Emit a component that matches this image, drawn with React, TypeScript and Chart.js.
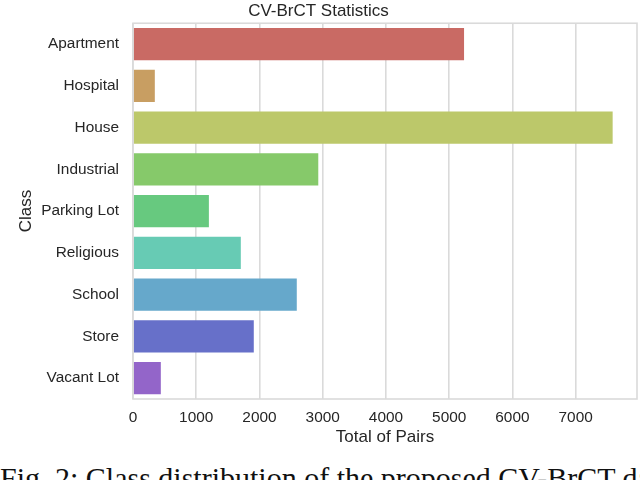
import React, { useEffect, useRef } from "react";
import { Chart, registerables } from "chart.js";

Chart.register(...registerables);

const categories = ["Apartment", "Hospital", "House", "Industrial", "Parking Lot", "Religious", "School", "Store", "Vacant Lot"];
const pairCounts = [5235, 345, 7585, 2930, 1200, 1705, 2590, 1910, 440];
const barColors = ["#c96a64", "#c89e62", "#bcc86a", "#86c96a", "#67c97f", "#67cbb4", "#66a8cb", "#6770c9", "#9365c9"];
const xTickValues = [0, 1000, 2000, 3000, 4000, 5000, 6000, 7000];
const chartTitle = "CV-BrCT Statistics";
const xAxisTitle = "Total of Pairs";
const yAxisTitle = "Class";
const captionText = "Fig. 2: Class distribution of the proposed CV-BrCT dataset.";

const GRID = "#dadada";
const TEXT = "#262626";
const SANS = "'Liberation Sans', Arial, sans-serif";

const framePlugin = {
  id: "frame",
  afterDraw(chart: any) {
    const { ctx, chartArea } = chart;
    ctx.save();
    ctx.strokeStyle = GRID;
    ctx.lineWidth = 1.6;
    ctx.strokeRect(chartArea.left, chartArea.top, chartArea.right - chartArea.left, chartArea.bottom - chartArea.top);
    ctx.restore();
  },
};

export default function App() {
  const ref = useRef<HTMLCanvasElement | null>(null);
  useEffect(() => {
    if (!ref.current) return;
    const chart = new Chart(ref.current, {
      type: "bar",
      data: {
        labels: categories,
        datasets: [
          {
            data: pairCounts,
            backgroundColor: barColors,
            borderWidth: 0,
            barPercentage: 0.77,
            categoryPercentage: 1,
          },
        ],
      },
      plugins: [framePlugin],
      options: {
        indexAxis: "y",
        animation: false,
        responsive: false,
        maintainAspectRatio: false,
        layout: { padding: { left: 0, right: 3, top: 0, bottom: 0 } },
        plugins: {
          legend: { display: false },
          tooltip: { enabled: false },
          title: {
            display: true,
            text: chartTitle,
            color: TEXT,
            font: { family: SANS, size: 17, weight: "normal" },
            padding: { top: 0, bottom: 2 },
          },
        },
        scales: {
          x: {
            type: "linear",
            min: 0,
            max: 7970,
            border: { display: false },
            grid: { color: GRID, lineWidth: 1.6, drawTicks: false },
            afterBuildTicks: (scale: any) => {
              scale.ticks = xTickValues.map((v) => ({ value: v }));
            },
            afterFit: (scale: any) => {
              scale.height = 53;
            },
            ticks: {
              color: TEXT,
              padding: 10,
              font: { family: SANS, size: 15.4 },
              callback: (v: any) => String(v),
            },
            title: {
              display: true,
              text: xAxisTitle,
              color: TEXT,
              font: { family: SANS, size: 17 },
              padding: { top: 0, bottom: 4 },
            },
          },
          y: {
            type: "category",
            border: { display: false },
            grid: { display: false, drawTicks: false },
            afterFit: (scale: any) => {
              scale.width = 133;
            },
            ticks: {
              color: TEXT,
              padding: 14,
              font: { family: SANS, size: 15.4 },
            },
            title: {
              display: true,
              text: yAxisTitle,
              color: TEXT,
              font: { family: SANS, size: 17 },
              padding: { top: 16, bottom: 0 },
            },
          },
        },
      },
    } as any);
    return () => chart.destroy();
  }, []);

  return (
    <div style={{ position: "fixed", left: 0, top: 0, width: 640, height: 480, overflow: "hidden", background: "#fff" }}>
      <canvas ref={ref} width={640} height={452} style={{ position: "absolute", left: 0, top: 0, width: 640, height: 452 }} />
      <div
        style={{
          position: "absolute",
          left: 0,
          top: 463,
          whiteSpace: "nowrap",
          fontFamily: "'Liberation Serif', 'Times New Roman', serif",
          fontSize: 30,
          lineHeight: "30px",
          color: "#111",
        }}
      >
        {captionText}
      </div>
    </div>
  );
}
